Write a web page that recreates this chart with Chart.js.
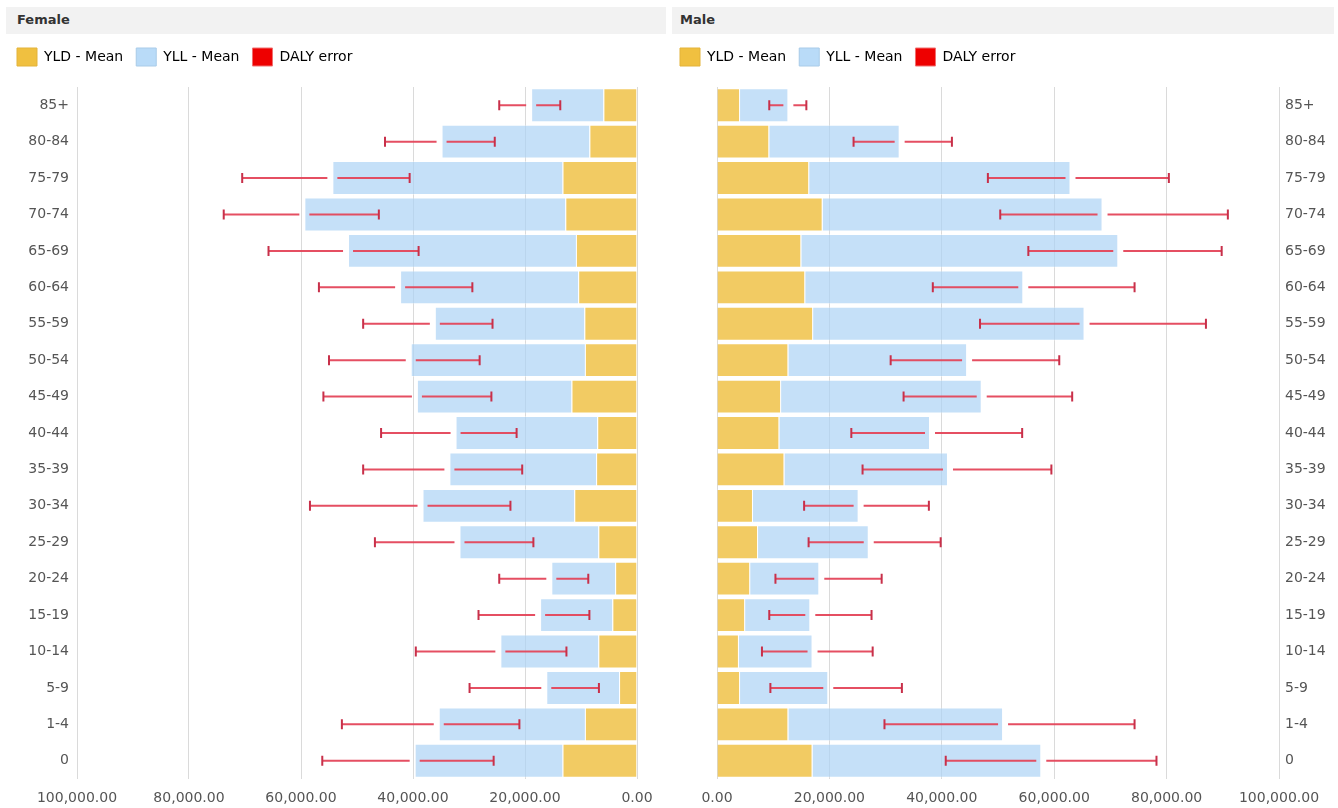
<!DOCTYPE html>
<html>
<head>
<meta charset="utf-8">
<script src="https://cdn.jsdelivr.net/npm/chart.js@4.4.1/dist/chart.umd.min.js"></script>
<style>
  html, body { margin: 0; background: #fff; overflow: hidden; font-family: "DejaVu Sans", sans-serif; }
  .panel { position: absolute; top: 0; height: 808px; }
  .band { position: absolute; top: 7px; height: 27px; background: #f2f2f2; }
  .band span { position: absolute; top: 5px; font-weight: bold; font-size: 13px; color: #333; }
  .panel canvas { position: absolute; left: 0; top: 35px; }
</style>
</head>
<body>
<div class="panel" style="left:0; width:668px">
  <div class="band" style="left:6px; width:660px"><span style="left:11px">Female</span></div>
  <canvas id="female" width="668" height="782"></canvas>
</div>
<div class="panel" style="left:667px; width:671px">
  <div class="band" style="left:5px; width:662px"><span style="left:8px">Male</span></div>
  <canvas id="male" width="671" height="782"></canvas>
</div>
<script>
var ageGroups = ['85+', '80-84', '75-79', '70-74', '65-69', '60-64', '55-59', '50-54', '45-49', '40-44',
                 '35-39', '30-34', '25-29', '20-24', '15-19', '10-14', '5-9', '1-4', '0'];
var xTicks = [0, 20000, 40000, 60000, 80000, 100000];

// Female
var femaleYld  = [6000, 8500, 13300, 12800, 10900, 10500, 9400, 9300, 11700, 7100, 7300, 11200, 6900, 3900, 4400, 6900, 3200, 9300, 13300];
var femaleYll  = [12900, 26400, 41100, 46600, 40700, 31800, 26700, 31100, 27600, 25300, 26200, 27100, 24800, 11400, 12900, 17500, 13000, 26100, 26400];
var femaleLow  = [13700, 25400, 40600, 46100, 39000, 29400, 25800, 28100, 26000, 21500, 20500, 22600, 18500, 8700, 8500, 12600, 6800, 21000, 25600];
var femaleHigh = [24600, 45000, 70500, 73800, 65800, 56800, 48900, 55000, 56000, 45700, 48900, 58400, 46800, 24600, 28300, 39500, 29900, 52700, 56200];

// Male
var maleYld  = [4100, 9300, 16400, 18800, 15000, 15700, 17100, 12700, 11400, 11100, 12000, 6400, 7300, 5900, 5000, 3900, 4100, 12700, 17000];
var maleYll  = [8600, 23200, 46500, 49800, 56400, 38800, 48300, 31800, 35700, 26800, 29100, 18800, 19700, 12300, 11600, 13100, 15700, 38200, 40700];
var maleLow  = [9300, 24300, 48200, 50400, 55400, 38400, 46800, 30900, 33200, 23900, 25900, 15500, 16300, 10400, 9300, 8000, 9500, 29800, 40700];
var maleHigh = [15900, 41800, 80400, 90900, 89800, 74300, 87000, 60900, 63200, 54300, 59500, 37700, 39800, 29300, 27500, 27700, 32900, 74300, 78200];

var FONT = 'DejaVu Sans';

// red error whiskers, with a small break where the bar ends
var dalyErrors = {
    id: 'dalyErrors',
    afterDatasetsDraw: function (chart, args, opts) {
        var ctx = chart.ctx, xs = chart.scales.x, ys = chart.scales.y;
        ctx.save();
        for (var i = 0; i < opts.low.length; i++) {
            var y = ys.getPixelForValue(i);
            var a = xs.getPixelForValue(opts.low[i]);
            var b = xs.getPixelForValue(opts.high[i]);
            var t = xs.getPixelForValue(opts.total[i]);
            var l = Math.min(a, b), r = Math.max(a, b);
            ctx.strokeStyle = 'rgba(228,70,90,0.95)';
            ctx.lineWidth = 2;
            ctx.beginPath();
            ctx.moveTo(l, y); ctx.lineTo(Math.max(l, t - 5), y);
            ctx.moveTo(Math.min(r, t + 5), y); ctx.lineTo(r, y);
            ctx.stroke();
            ctx.strokeStyle = '#c8304a';
            ctx.beginPath();
            ctx.moveTo(l, y - 5); ctx.lineTo(l, y + 5);
            ctx.moveTo(r, y - 5); ctx.lineTo(r, y + 5);
            ctx.stroke();
        }
        ctx.restore();
    }
};

// extra room below the legend
var legendGap = {
    id: 'legendGap',
    beforeInit: function (chart) {
        var fit = chart.legend.fit;
        chart.legend.fit = function () {
            fit.bind(chart.legend)();
            this.height += 11;
        };
    }
};

function makePanel(id, yld, yll, low, high, female) {
    var total = yld.map(function (v, i) { return v + yll[i]; });
    var scales = {
        x: {
            stacked: true,
            reverse: female,
            min: 0,
            max: 100000,
            afterBuildTicks: function (s) { s.ticks = xTicks.map(function (v) { return { value: v }; }); },
            ticks: {
                color: '#555',
                font: { family: FONT, size: 14, lineHeight: 1 },
                padding: 12,
                maxRotation: 0,
                callback: function (v) {
                    return Number(v).toLocaleString('en-US', { minimumFractionDigits: 2, maximumFractionDigits: 2 });
                }
            },
            grid: { color: '#dadada', drawTicks: false },
            border: { display: false }
        },
        y: {
            stacked: true,
            position: female ? 'left' : 'right',
            ticks: { color: '#555', font: { family: FONT, size: 14 }, padding: female ? 8 : 6 },
            grid: { display: false, drawTicks: false },
            border: { display: false },
            afterFit: function (s) { s.width = female ? 73 : 59; }
        }
    };
    if (!female) {
        scales.spacer = {
            type: 'category',
            labels: ageGroups,
            position: 'left',
            ticks: { display: false },
            grid: { display: false, drawTicks: false },
            border: { display: false },
            afterFit: function (s) { s.width = 50; }
        };
    }
    return new Chart(document.getElementById(id).getContext('2d'), {
        type: 'bar',
        data: {
            labels: ageGroups,
            datasets: [{
                label: 'YLD - Mean',
                data: yld,
                backgroundColor: 'rgba(240,194,72,0.85)',
                borderColor: 'rgba(255,255,255,0.35)',
                borderWidth: 1,
                categoryPercentage: 0.93,
                barPercentage: 1
            }, {
                label: 'YLL - Mean',
                data: yll,
                backgroundColor: 'rgba(172,211,245,0.7)',
                borderColor: 'rgba(255,255,255,0.35)',
                borderWidth: 1,
                categoryPercentage: 0.93,
                barPercentage: 1
            }]
        },
        options: {
            indexAxis: 'y',
            responsive: false,
            animation: false,
            layout: { padding: { left: female ? 4 : 0, right: female ? 31 : 0, top: 0, bottom: 0 } },
            scales: scales,
            plugins: {
                tooltip: { enabled: false },
                legend: {
                    display: true,
                    position: 'top',
                    align: 'start',
                    labels: {
                        boxWidth: 20,
                        boxHeight: 18,
                        padding: 13,
                        color: '#333',
                        font: { family: FONT, size: 14 },
                        generateLabels: function () {
                            return [
                                { text: 'YLD - Mean', fillStyle: '#f0c040', strokeStyle: '#e3b33a', lineWidth: 1 },
                                { text: 'YLL - Mean', fillStyle: '#b9dbf8', strokeStyle: '#a9cbe8', lineWidth: 1 },
                                { text: 'DALY error', fillStyle: '#ee0000', strokeStyle: '#f07070', lineWidth: 1 }
                            ];
                        }
                    }
                },
                dalyErrors: { low: low, high: high, total: total }
            }
        },
        plugins: [dalyErrors, legendGap]
    });
}

makePanel('female', femaleYld, femaleYll, femaleLow, femaleHigh, true);
makePanel('male', maleYld, maleYll, maleLow, maleHigh, false);
</script>
</body>
</html>
